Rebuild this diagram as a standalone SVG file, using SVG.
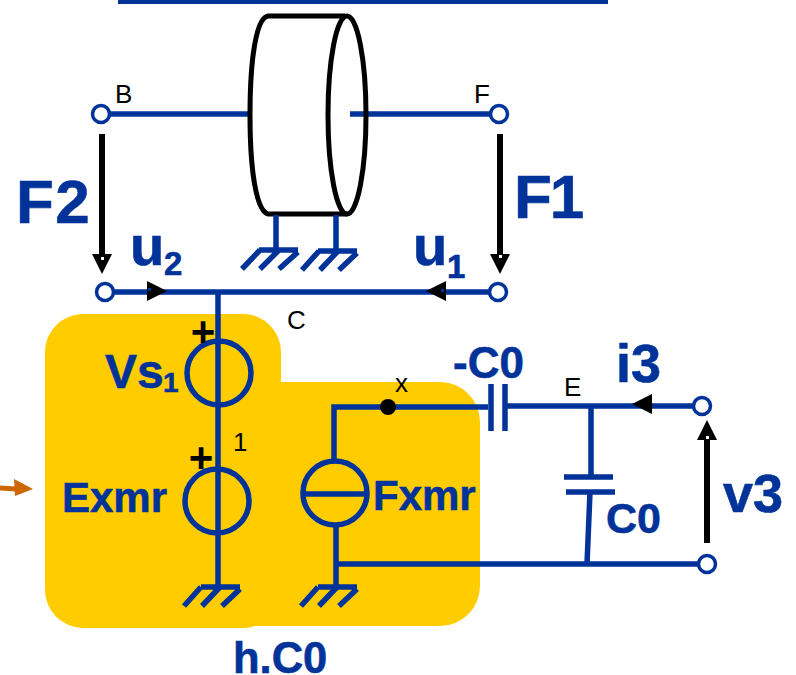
<svg xmlns="http://www.w3.org/2000/svg" width="796" height="675" viewBox="0 0 796 675">
<style>
text{font-family:"Liberation Sans",Arial,sans-serif}
.b{fill:#003399;font-weight:bold;stroke:#003399;stroke-width:.6}
.s{fill:#000;font-size:26px}
.p{fill:#000;font-size:42px;font-weight:bold;text-anchor:middle}
.w{fill:none;stroke:#003399;stroke-width:5.5}
.t{fill:#fff;stroke:#003399;stroke-width:3.5}
.k{fill:none;stroke:#000;stroke-width:6}
.a{fill:#000}
</style>
<rect width="796" height="675" fill="#fff"/>
<rect x="118" y="0" width="490" height="4" fill="#003399"/>
<g id="block"><path d="M83 314H243A38 38 0 0 1 281 352V382H440A40 40 0 0 1 480 422V586A40 40 0 0 1 440 626H255Q250 628 243 628H83A38 38 0 0 1 45 590V352A38 38 0 0 1 83 314Z" fill="#ffcc00"/></g>
<g id="connectors">
<path class="w" d="M108 114H250M350 114H492M110 292H491M218 292V587M334 459V407H488M505 406H695M591 406V475M590 492L587 564M336 527V587M336 564H699"/>
<path class="w" d="M491 384V431M505 384V431M564 477H613M566 492H615"/>
<path class="k" d="M102 134V256M500 134V256M707 543V438"/>
<path d="M0 488L16 489" stroke="#cc6600" stroke-width="5" fill="none"/><path d="M14 479L33 489L15 496Z" fill="#cc6600"/>
<path class="a" d="M92 254H112L102 274Z"/><path class="a" d="M490 254H510L500 274Z"/><path class="a" d="M697 440H717L707 420Z"/>
<path class="a" d="M147 281L167 291L147 301Z"/><path class="a" d="M446 281L426 291L446 301Z"/><path class="a" d="M652 394L632 404L652 414Z"/>
<path d="M101 257h3v3h-3zM499 255h3v3h-3zM706 436h3v3h-3z" fill="#fff"/>
<path d="M148 288h3v3h-3zM441 289h3v3h-3z" fill="#003399"/>
</g>
<g id="motor"><path d="M345 16H268C256 18 250 60 250 115S256 210 268 214H347" fill="none" stroke="#000" stroke-width="5"/><ellipse cx="347" cy="115" rx="19" ry="99" fill="none" stroke="#000" stroke-width="5"/></g>
<g id="ground-1"><path class="w" d="M276 215V249M259 250H298M260 250L242 269M279 250L260 269M298 252L279 269"/></g>
<g id="ground-2"><path class="w" d="M336 215V249M318 251H357M319 251L302 270M338 251L320 270M357 253L339 270"/></g>
<g id="ground-3"><path class="w" d="M201 587H240M201 587L184 606M220 587L202 606M240 589L222 606"/></g>
<g id="ground-4"><path class="w" d="M318 587H357M318 587L301 606M337 587L319 606M357 589L339 606"/></g>
<g id="terminal-b"><circle class="t" cx="101" cy="114" r="8.5"/><text class="s" x="115" y="103">B</text></g>
<g id="terminal-f"><circle class="t" cx="499" cy="114" r="8.5"/><text class="s" x="474" y="103">F</text></g>
<g id="terminal-u2"><circle class="t" cx="105" cy="292" r="8.5"/></g>
<g id="terminal-u1"><circle class="t" cx="498" cy="292" r="8.5"/></g>
<g id="terminal-i3"><circle class="t" cx="702" cy="406" r="8.5"/></g>
<g id="terminal-v3"><circle class="t" cx="707" cy="564" r="8.5"/></g>
<g id="vs1"><circle class="w" cx="219" cy="373" r="32"/><text class="p" x="203" y="346">+</text><text class="b" x="105" y="388" font-size="48">Vs</text><text class="b" x="163" y="392" font-size="28">1</text></g>
<g id="exmr"><circle class="w" cx="217" cy="501" r="32"/><text class="p" x="201" y="472">+</text><text class="b" x="62" y="512" font-size="42">Exmr</text></g>
<g id="fxmr"><circle class="w" cx="335" cy="493" r="32"/><path class="w" d="M304 494H366"/><text class="b" x="373" y="510" font-size="42">Fxmr</text></g>
<g id="node-x"><circle cx="388" cy="407" r="8" fill="#000"/><text class="s" x="395" y="392">x</text></g>
<g id="labels">
<text class="b" x="16" y="223" font-size="62" letter-spacing="1.5">F2</text>
<text class="b" x="514" y="218" font-size="62" letter-spacing="-2">F1</text>
<text class="b" x="130" y="265" font-size="56">u</text><text class="b" x="164" y="275" font-size="33">2</text>
<text class="b" x="413" y="265" font-size="56">u</text><text class="b" x="447" y="278" font-size="33">1</text>
<text class="s" x="287" y="329">C</text>
<text class="s" x="564" y="396">E</text>
<text class="s" x="233" y="451">1</text>
<text class="b" x="453" y="378" font-size="44">-C0</text>
<text class="b" x="616" y="382" font-size="54">i3</text>
<text class="b" x="723" y="512" font-size="54">v3</text>
<text class="b" x="606" y="533" font-size="43">C0</text>
<text class="b" x="233" y="673" font-size="43.5">h.C0</text>
</g>
</svg>
